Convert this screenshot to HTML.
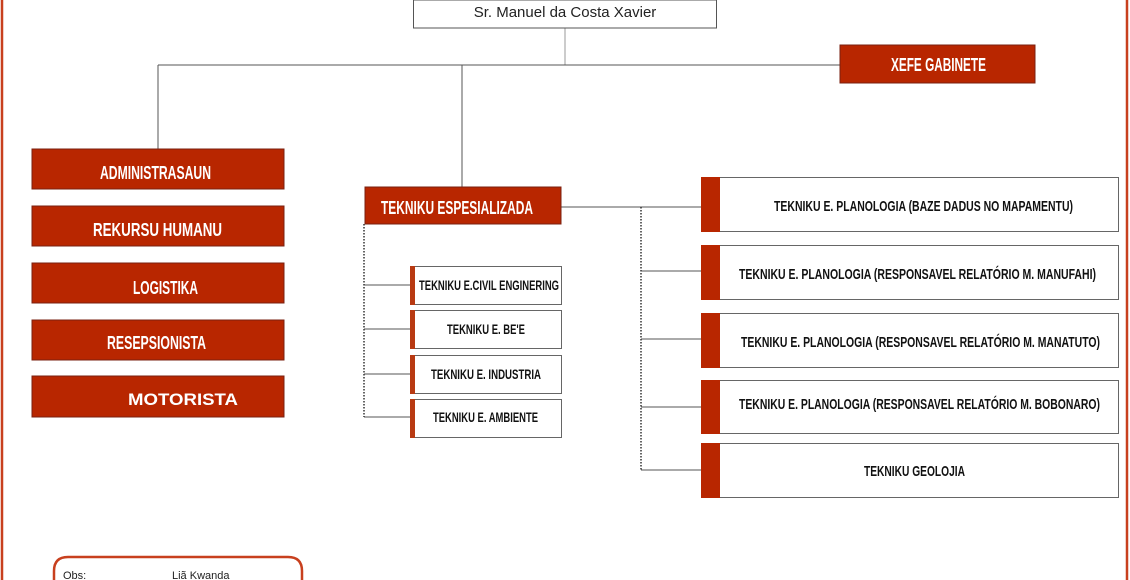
<!DOCTYPE html>
<html><head><meta charset="utf-8"><style>
html,body{margin:0;padding:0;background:#fff;width:1130px;height:580px;overflow:hidden;}
svg{display:block;}
text{font-family:"Liberation Sans",sans-serif;font-weight:bold;}
</style></head><body>
<svg width="1130" height="580" viewBox="0 0 1130 580" xmlns="http://www.w3.org/2000/svg">
<rect x="0" y="0" width="1130" height="580" fill="#fff"/>
<line x1="2" y1="0" x2="2" y2="580" stroke="#c8401e" stroke-width="2.5"/>
<line x1="1127" y1="0" x2="1127" y2="580" stroke="#c8401e" stroke-width="2.5"/>

<g stroke="#555" stroke-width="1" fill="none">
<line x1="565" y1="28" x2="565" y2="65" stroke="#999"/>
<line x1="158" y1="65" x2="840" y2="65"/>
<line x1="158" y1="65" x2="158" y2="149"/>
<line x1="462" y1="65" x2="462" y2="187"/>
<line x1="561" y1="207" x2="701" y2="207"/>
<line x1="364" y1="285" x2="410" y2="285"/>
<line x1="364" y1="329" x2="410" y2="329"/>
<line x1="364" y1="374" x2="410" y2="374"/>
<line x1="364" y1="417" x2="410" y2="417"/>
<line x1="641" y1="271" x2="701" y2="271"/>
<line x1="641" y1="339" x2="701" y2="339"/>
<line x1="641" y1="407" x2="701" y2="407"/>
<line x1="641" y1="470" x2="701" y2="470"/>
</g>
<g stroke="#333" stroke-width="1.5" stroke-dasharray="1.5,1.5" fill="none">
<line x1="364" y1="224" x2="364" y2="417"/>
<line x1="641" y1="207" x2="641" y2="470"/>
</g>

<rect x="413.5" y="0" width="303" height="28" fill="#fff" stroke="#555"/>
<text x="565" y="17" font-size="15" text-anchor="middle" style="font-weight:normal" fill="#222">Sr. Manuel da Costa Xavier</text>

<rect x="840" y="45" width="195" height="38" fill="#b82600" stroke="#7a2010"/>
<text x="891" y="71" font-size="18" fill="#fff" textLength="95" lengthAdjust="spacingAndGlyphs">XEFE GABINETE</text>

<g fill="#b82600" stroke="#7a2010">
<rect x="32" y="149" width="252" height="40"/>
<rect x="32" y="206" width="252" height="40"/>
<rect x="32" y="263" width="252" height="40"/>
<rect x="32" y="320" width="252" height="40"/>
<rect x="32" y="376" width="252" height="41"/>
<rect x="365" y="187" width="196" height="37"/>
</g>
<g fill="#fff" font-size="18">
<text x="100" y="179" textLength="111" lengthAdjust="spacingAndGlyphs">ADMINISTRASAUN</text>
<text x="93" y="236" textLength="129" lengthAdjust="spacingAndGlyphs">REKURSU HUMANU</text>
<text x="133" y="294" textLength="65" lengthAdjust="spacingAndGlyphs">LOGISTIKA</text>
<text x="107" y="349" textLength="99" lengthAdjust="spacingAndGlyphs">RESEPSIONISTA</text>
<text x="128" y="405" font-size="17" textLength="110" lengthAdjust="spacingAndGlyphs">MOTORISTA</text>
<text x="381" y="214" textLength="152" lengthAdjust="spacingAndGlyphs">TEKNIKU ESPESIALIZADA</text>
</g>

<g fill="#fff" stroke="#666">
<rect x="410.5" y="266.5" width="151" height="38"/>
<rect x="410.5" y="310.5" width="151" height="38"/>
<rect x="410.5" y="355.5" width="151" height="38"/>
<rect x="410.5" y="399.5" width="151" height="38"/>
</g>
<g fill="#b83a12">
<rect x="410" y="266" width="5" height="39"/>
<rect x="410" y="310" width="5" height="39"/>
<rect x="410" y="355" width="5" height="39"/>
<rect x="410" y="399" width="5" height="39"/>
</g>
<g fill="#111" font-size="14">
<text x="419" y="290" textLength="140" lengthAdjust="spacingAndGlyphs">TEKNIKU E.CIVIL ENGINERING</text>
<text x="447" y="334" textLength="78" lengthAdjust="spacingAndGlyphs">TEKNIKU E. BE'E</text>
<text x="431" y="379" textLength="110" lengthAdjust="spacingAndGlyphs">TEKNIKU E. INDUSTRIA</text>
<text x="433" y="422" textLength="105" lengthAdjust="spacingAndGlyphs">TEKNIKU E. AMBIENTE</text>
</g>

<g fill="#fff" stroke="#666">
<rect x="701.5" y="177.5" width="417" height="54"/>
<rect x="701.5" y="245.5" width="417" height="54"/>
<rect x="701.5" y="313.5" width="417" height="54"/>
<rect x="701.5" y="380.5" width="417" height="53"/>
<rect x="701.5" y="443.5" width="417" height="54"/>
</g>
<g fill="#b82600">
<rect x="701" y="177" width="19" height="55"/>
<rect x="701" y="245" width="19" height="55"/>
<rect x="701" y="313" width="19" height="55"/>
<rect x="701" y="380" width="19" height="54"/>
<rect x="701" y="443" width="19" height="55"/>
</g>
<g fill="#111" font-size="15">
<text x="774" y="211" textLength="299" lengthAdjust="spacingAndGlyphs">TEKNIKU E. PLANOLOGIA (BAZE DADUS NO MAPAMENTU)</text>
<text x="739" y="279" textLength="357" lengthAdjust="spacingAndGlyphs">TEKNIKU E. PLANOLOGIA (RESPONSAVEL RELATÓRIO M. MANUFAHI)</text>
<text x="741" y="347" textLength="359" lengthAdjust="spacingAndGlyphs">TEKNIKU E. PLANOLOGIA (RESPONSAVEL RELATÓRIO M. MANATUTO)</text>
<text x="739" y="409" textLength="361" lengthAdjust="spacingAndGlyphs">TEKNIKU E. PLANOLOGIA (RESPONSAVEL RELATÓRIO M. BOBONARO)</text>
<text x="864" y="476" textLength="101" lengthAdjust="spacingAndGlyphs">TEKNIKU GEOLOJIA</text>
</g>

<path d="M54 580 L54 571 Q54 557 68 557 L288 557 Q302 557 302 571 L302 580" fill="#fff" stroke="#c8401e" stroke-width="2.5"/>
<text x="63" y="579" font-size="11" style="font-weight:normal" fill="#222">Obs:</text>
<text x="172" y="579" font-size="11" style="font-weight:normal" fill="#222">Liã Kwanda</text>
</svg>
</body></html>
